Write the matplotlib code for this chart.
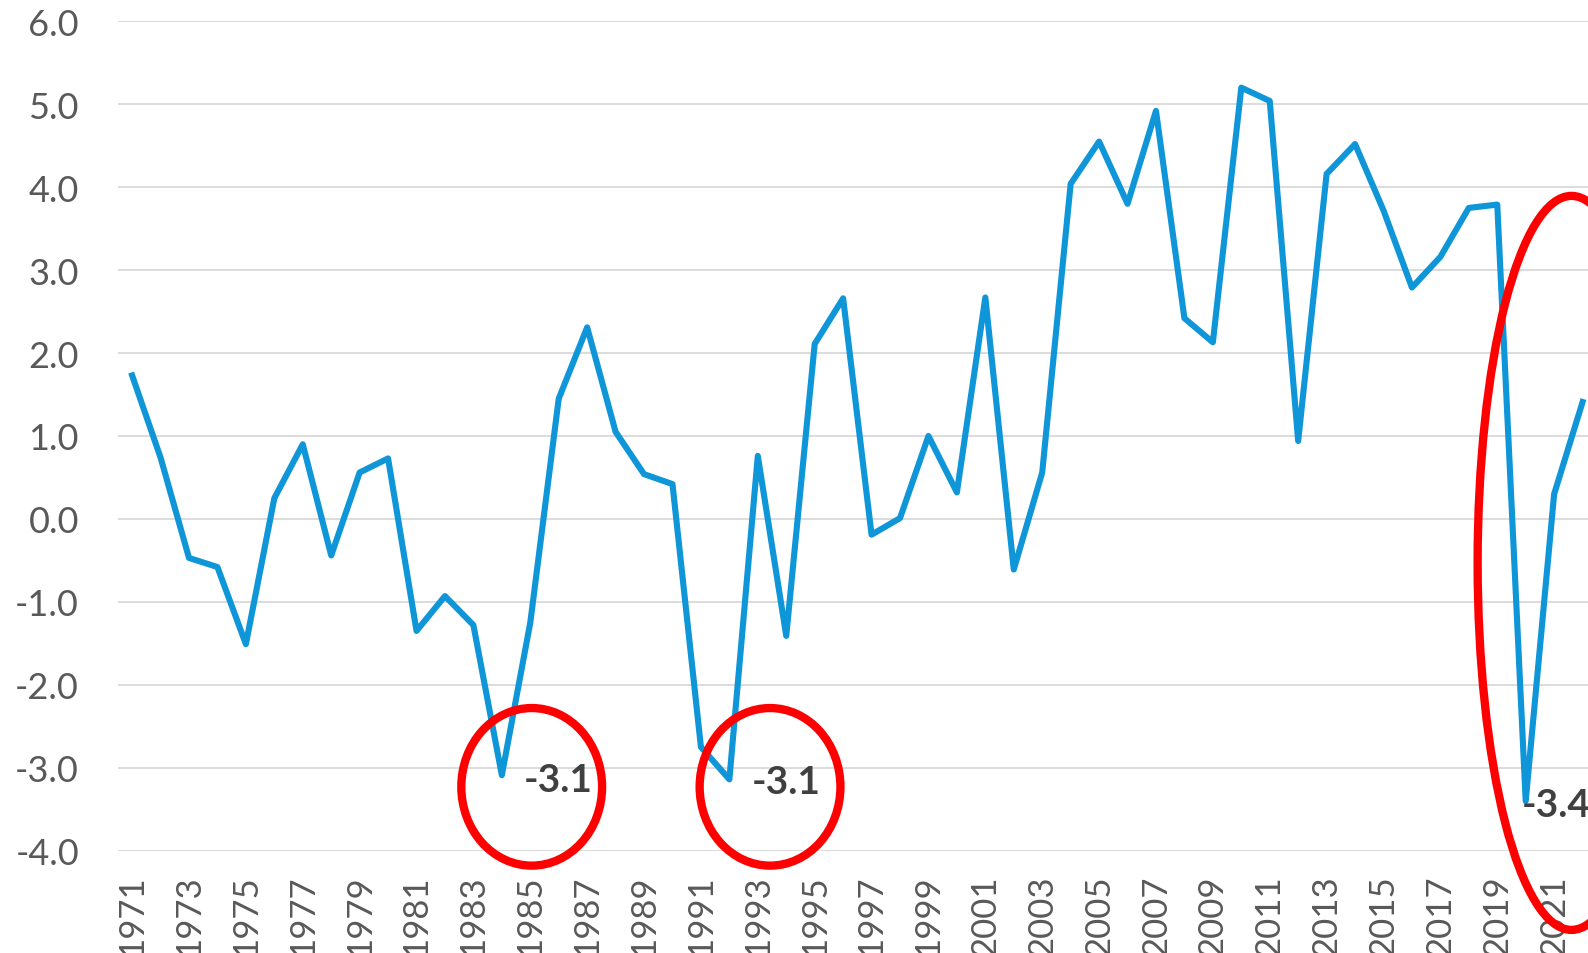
import numpy as np
import matplotlib
matplotlib.use("Agg")
import matplotlib.pyplot as plt
from matplotlib.patches import Ellipse

# Data
years = list(range(1971, 2023))
values = [1.73, 0.74, -0.47, -0.58, -1.51, 0.25, 0.90, -0.44, 0.56, 0.73,
          -1.35, -0.93, -1.28, -3.09, -1.25, 1.45, 2.31, 1.05, 0.54, 0.42,
          -2.75, -3.14, 0.76, -1.41, 2.11, 2.66, -0.19, 0.01, 1.00, 0.32,
          2.67, -0.61, 0.56, 4.04, 4.55, 3.80, 4.92, 2.42, 2.13, 5.20,
          5.04, 0.94, 4.16, 4.52, 3.72, 2.79, 3.16, 3.75, 3.79, -3.40,
          0.30, 1.41]
tick_years = list(range(1971, 2023, 2))
y_ticks = [-4, -3, -2, -1, 0, 1, 2, 3, 4, 5, 6]

# Highlighted troughs: year of the point, label offset (points, baseline)
label_years = [1984, 1992, 2020]
label_offsets = [(16, -11), (16, -10), (-2.5, -11)]
# Red circles: centre (year, value), width (years), height (value units)
circles = [((1985.05, -3.23), 4.95, 1.9),
           ((1993.43, -3.23), 4.95, 1.9),
           ((2021.61, -0.53), 6.6, 8.85)]

plt.rcParams['font.family'] = ['Lato', 'DejaVu Sans']

fig = plt.figure(figsize=(15.88, 9.54), dpi=100)
W, H = 1588, 954
left, right, top, bottom = 117.9, 1596.8, 22.3, 851.7
ax = fig.add_axes([left / W, (H - bottom) / H, (right - left) / W, (bottom - top) / H])

ax.plot(years, values, color='#0e96d8', lw=4.4, solid_joinstyle='round', zorder=3)

ax.set_xlim(1970.5, 2022.5)
ax.set_ylim(-4, 6)
ax.set_yticks(y_ticks)
ax.set_yticklabels([f"{v:.1f}" for v in y_ticks])
ax.set_xticks(tick_years)
ax.set_xticklabels([str(y) for y in tick_years], rotation=90)
ax.tick_params(axis='y', length=0, pad=28, labelsize=26, labelcolor='#595959')
ax.tick_params(axis='x', length=0, pad=17, labelsize=25, labelcolor='#595959')
ax.grid(axis='y', color='#d9d9d9', lw=1.3, zorder=0)
ax.set_axisbelow(True)
for s in ax.spines.values():
    s.set_visible(False)

for yr, off in zip(label_years, label_offsets):
    v = values[years.index(yr)]
    ax.annotate(f"{v:.1f}", (yr, v), xytext=off, textcoords='offset points',
                ha='left', va='baseline', fontsize=28, fontweight='bold',
                color='#404040', zorder=5)

for (cx, cy), w, h in circles:
    ax.add_patch(Ellipse((cx, cy), w, h, fill=False, edgecolor='#ff0000',
                         lw=6, clip_on=False, zorder=4))

fig.savefig('out.png', dpi=100)
